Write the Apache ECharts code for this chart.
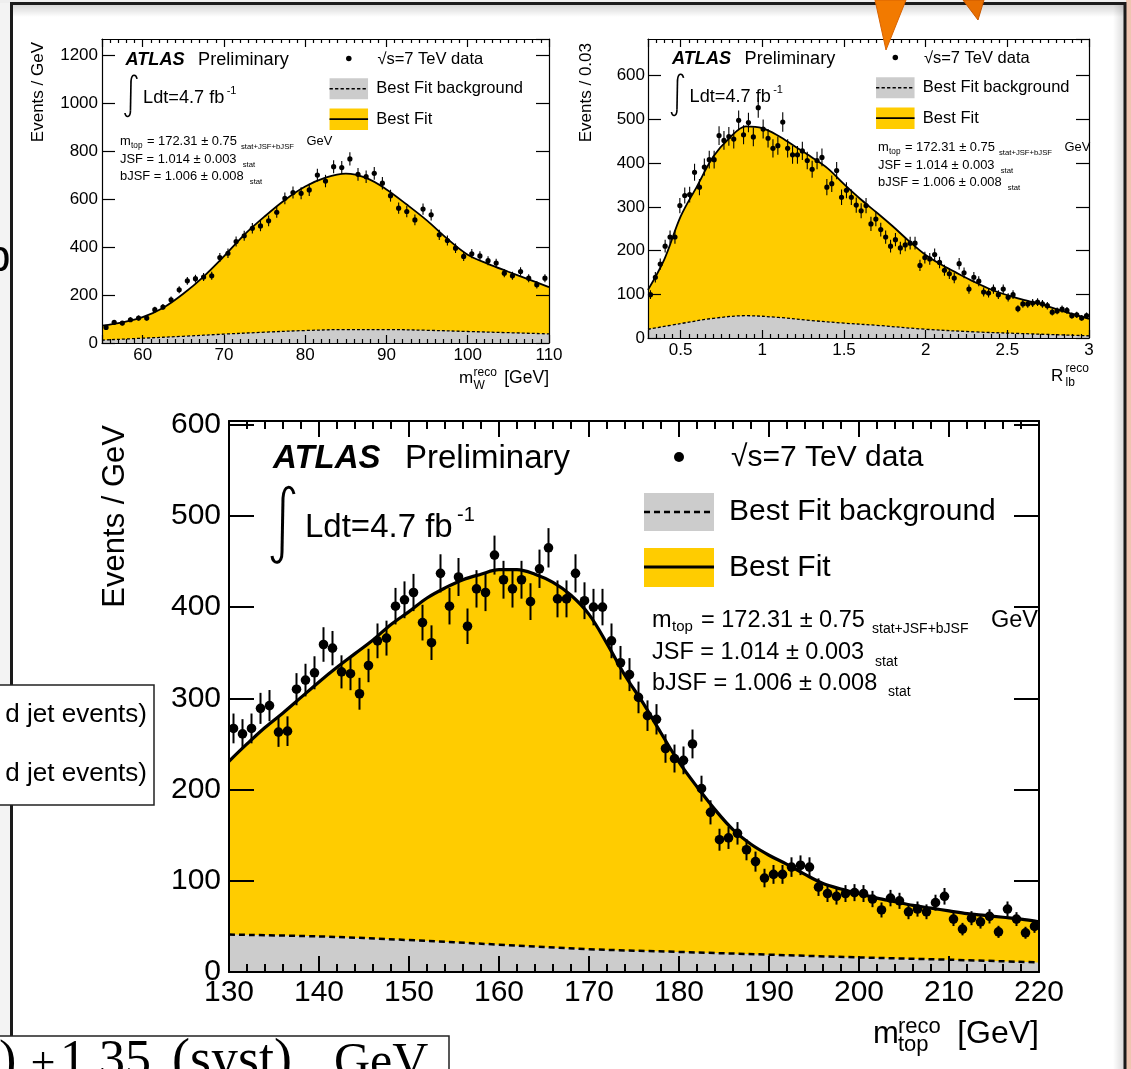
<!DOCTYPE html>
<html lang="en">
<head>
<meta charset="UTF-8" />
<title>ATLAS top mass template fit</title>
<script src="https://cdn.jsdelivr.net/npm/echarts@6.0.0/dist/echarts.min.js"></script>
<style>
  html, body { margin: 0; padding: 0; background: #fff; }
  #chart { width: 1131px; height: 1069px; }
</style>
</head>
<body>
<div id="chart"></div>
<script>
// ---- m_W^reco : 1 GeV bins from 55 GeV ----
const mwLo = 55, mwBinWidth = 1;
const mwData = [65, 86, 83, 97, 104, 104, 139, 150, 180, 222, 259, 268, 275, 280, 356, 374, 423, 447, 478, 488,
  509, 545, 603, 627, 624, 638, 700, 675, 735, 731, 767, 703, 693, 707, 666, 614, 562, 548, 513, 558,
  534, 451, 427, 395, 361, 372, 363, 343, 333, 291, 280, 298, 270, 243, 270];
const mwFitX = [55, 57.5, 60, 62.5, 65, 67.5, 70, 72.5, 75, 77.5, 80, 82.5, 85, 87.5, 90, 92.5, 95, 97.5, 100, 102.5, 105, 107.5, 110];
const mwFitY = [72, 86, 108, 146, 205, 277, 361, 451, 527, 596, 652, 689, 706, 688, 640, 577, 510, 434, 368, 330, 297, 265, 233];
const mwBkgX = [55, 60, 65, 70, 75, 80, 85, 90, 95, 100, 105, 110];
const mwBkgY = [12, 20, 28, 37, 45, 52, 56, 56, 53, 48, 43, 38];

// ---- R_lb^reco : 0.03 bins from 0.3 ----
const rlbLo = 0.3, rlbBinWidth = 0.03;
const rlbData = [99, 139, 169, 210, 231, 231, 303, 326, 328, 379, 345, 391, 408, 408, 463, 452, 461, 455, 498, 465,
  493, 460, 527, 478, 457, 434, 440, 494, 434, 419, 419, 428, 406, 386, 406, 413, 345, 353, 383, 322,
  338, 322, 304, 291, 303, 261, 272, 248, 231, 210, 225, 206, 213, 217, 217, 166, 184, 181, 191, 173,
  155, 147, 137, 170, 149, 112, 139, 130, 105, 103, 112, 99, 112, 93, 99, 67, 78, 78, 80, 82,
  78, 74, 59, 62, 66, 63, 51, 53, 46, 51];
const rlbFitX = [0.3, 0.4, 0.5, 0.6, 0.7, 0.8, 0.9, 1.0, 1.1, 1.2, 1.3, 1.4, 1.5, 1.6, 1.7, 1.8, 1.9, 2.0, 2.1, 2.2, 2.3, 2.4, 2.5, 2.6, 2.7, 2.8, 2.9, 3.0];
const rlbFitY = [110, 180, 278, 347, 415, 458, 484, 480, 462, 438, 414, 388, 352, 318, 287, 255, 221, 190, 167, 147, 128, 111, 98, 87, 78, 66, 55, 44];
const rlbBkgX = [0.3, 0.5, 0.7, 0.9, 1.1, 1.3, 1.5, 1.7, 2.0, 2.3, 2.6, 3.0];
const rlbBkgY = [20, 33, 45, 51, 47, 40, 34, 29, 20, 14, 10, 5];

// ---- m_top^reco : 1 GeV bins from 130 GeV ----
const mtLo = 130, mtBinWidth = 1;
const mtData = [267, 261, 267, 289, 292, 263, 264, 310, 320, 328, 359, 355, 329, 327, 305, 336, 363, 366, 401, 408,
  416, 383, 361, 437, 401, 433, 379, 420, 416, 457, 430, 420, 430, 406, 442, 465, 409, 409, 437, 407,
  400, 400, 363, 339, 326, 301, 281, 277, 245, 234, 232, 250, 201, 175, 145, 147, 152, 134, 121, 103,
  107, 107, 115, 117, 115, 93, 86, 83, 86, 87, 86, 80, 68, 81, 78, 66, 69, 66, 76, 83,
  58, 47, 59, 55, 61, 44, 69, 58, 43, 50];
const mtFitX = [130, 132, 134, 136, 138, 140, 142, 144, 146, 148, 150, 152, 154, 156, 158, 160, 162, 164, 166, 168,
  170, 172, 174, 176, 178, 180, 182, 184, 186, 188, 190, 192, 194, 196, 198, 200, 202, 204, 206, 208,
  210, 212, 214, 216, 218, 220];
const mtFitY = [231, 250, 268, 284, 301, 318, 334, 349, 364, 381, 395, 410, 421, 430, 436, 441, 441, 436, 427, 413,
  392, 360, 325, 295, 262, 230, 203, 178, 156, 140, 128, 118, 107, 97, 91, 86, 81, 77, 73, 70,
  67, 64, 62, 60, 58, 55];
const mtBkgX = [130, 140, 150, 160, 170, 180, 190, 200, 210, 220];
const mtBkgY = [41, 39, 35, 30, 25, 22, 19, 16, 13.5, 10.5];

const FONT = 'Liberation Sans';
const YELLOW = '#ffcc00';
const GREY = '#cccccc';

const chart = echarts.init(document.getElementById('chart'));

// one pair of x axes (bottom/top) and y axes (left/right) per frame, ROOT style
function frameAxes(gi, o) {
  const ls = { color: '#000', width: o.lw };
  const xa = {
    gridIndex: gi, type: 'value', min: o.xmin, max: o.xmax,
    interval: o.xInterval, splitNumber: o.xSplit,
    axisLine: { show: true, onZero: false, lineStyle: ls },
    axisTick: { show: true, inside: true, length: o.tickX, lineStyle: ls },
    minorTick: { show: true, splitNumber: o.xMinor, length: o.minorX, lineStyle: ls },
    splitLine: { show: false },
    axisLabel: { fontFamily: FONT, fontSize: o.font, color: '#000', margin: o.xMargin,
      showMinLabel: o.xMinLabel, formatter: v => String(v) },
    z: 10
  };
  const ya = {
    gridIndex: gi, type: 'value', min: 0, max: o.ymax, interval: o.yInterval,
    axisLine: { show: true, onZero: false, lineStyle: ls },
    axisTick: { show: true, inside: true, length: o.tickY, lineStyle: ls },
    splitLine: { show: false },
    axisLabel: { fontFamily: FONT, fontSize: o.font, color: '#000', margin: o.yMargin,
      showMaxLabel: false, formatter: v => String(v) },
    z: 10
  };
  return {
    x: [Object.assign({}, xa, { position: 'bottom' }),
        Object.assign({}, xa, { position: 'top', axisLabel: { show: false } })],
    y: [Object.assign({}, ya, { position: 'left' }),
        Object.assign({}, ya, { position: 'right', axisLabel: { show: false } })]
  };
}

const ax1 = frameAxes(0, { xmin: 55, xmax: 110, xSplit: 5, xMinor: 10, ymax: 1267, yInterval: 200,
  lw: 1.2, tickX: 8, minorX: 4, tickY: 13, font: 17, xMargin: 4, yMargin: 4, xMinLabel: false });
const ax2 = frameAxes(1, { xmin: 0.3, xmax: 3, xSplit: 5, xMinor: 10, ymax: 684, yInterval: 100,
  lw: 1.2, tickX: 8, minorX: 4, tickY: 13, font: 17, xMargin: 4, yMargin: 3, xMinLabel: false });
const ax3 = frameAxes(2, { xmin: 130, xmax: 220, xInterval: 10, xMinor: 5, ymax: 604, yInterval: 100,
  lw: 2, tickX: 16, minorX: 8, tickY: 25, font: 30, xMargin: 6, yMargin: 8, xMinLabel: true });

function pairs(xs, ys) { return xs.map((x, i) => [x, ys[i]]); }

function fitSeries(gi, xs, ys, lw) {
  return {
    type: 'line', xAxisIndex: 2 * gi, yAxisIndex: 2 * gi, data: pairs(xs, ys),
    smooth: 0.35, symbol: 'none', silent: true, z: 2,
    lineStyle: { color: '#000', width: lw },
    areaStyle: { color: YELLOW, opacity: 1 }
  };
}
function bkgSeries(gi, xs, ys, lw, dash) {
  return {
    type: 'line', xAxisIndex: 2 * gi, yAxisIndex: 2 * gi, data: pairs(xs, ys),
    smooth: 0.35, symbol: 'none', silent: true, z: 3,
    lineStyle: { color: '#000', width: lw, type: dash },
    areaStyle: { color: GREY, opacity: 1 }
  };
}
// data points with sqrt(N) error bars
function dataSeries(gi, counts, lo, w, r, lw) {
  return {
    type: 'custom', xAxisIndex: 2 * gi, yAxisIndex: 2 * gi, z: 20, silent: true,
    data: counts.map((v, i) => [lo + (i + 0.5) * w, v]),
    renderItem: function (params, api) {
      const x = api.value(0), y = api.value(1);
      const p = api.coord([x, y]);
      const e = Math.sqrt(y);
      const hi = api.coord([x, y + e]), low = api.coord([x, y - e]);
      return {
        type: 'group', children: [
          { type: 'line', shape: { x1: p[0], y1: hi[1], x2: p[0], y2: low[1] }, style: { stroke: '#000', lineWidth: lw } },
          { type: 'circle', shape: { cx: p[0], cy: p[1], r: r }, style: { fill: '#000' } }
        ]
      };
    }
  };
}

// ---- text helpers (positions are baselines) ----
function T(x, base, str, size, o) {
  o = o || {};
  return {
    type: 'text', x: x, y: base - 0.33 * size, z: 100, silent: true,
    style: {
      text: str, fontFamily: o.family || FONT, fontSize: size,
      fontWeight: o.weight || 'normal', fontStyle: o.style || 'normal',
      fill: '#000', align: o.align || 'left', verticalAlign: 'middle'
    }
  };
}
function yName(x, top, str, size) {
  return {
    type: 'text', x: x, y: top, rotation: Math.PI / 2, z: 100, silent: true,
    style: { text: str, fontFamily: FONT, fontSize: size, fill: '#000', align: 'right', verticalAlign: 'middle' }
  };
}
function integral(x0, b0, s) {
  const P = (dx, dy) => [x0 + dx * s, b0 + dy * s];
  const st = { stroke: '#000', lineWidth: 3 * s, fill: null };
  const a = P(21, 24), c1 = P(19, 15), c2 = P(11, 14), b = P(10, 28);
  const d = P(9, 82), c3 = P(9, 95), c4 = P(0, 95), e = P(-1, 86);
  return [
    { type: 'bezierCurve', z: 100, shape: { x1: a[0], y1: a[1], cpx1: c1[0], cpy1: c1[1], cpx2: c2[0], cpy2: c2[1], x2: b[0], y2: b[1] }, style: st },
    { type: 'line', z: 100, shape: { x1: b[0], y1: b[1], x2: d[0], y2: d[1] }, style: st },
    { type: 'bezierCurve', z: 100, shape: { x1: d[0], y1: d[1], cpx1: c3[0], cpy1: c3[1], cpx2: c4[0], cpy2: c4[1], x2: e[0], y2: e[1] }, style: st }
  ];
}
function legendBlock(x0, b0, s) {
  const t = (dx, db, str, size, o) => T(x0 + dx * s, b0 + db * s, str, size * s, o);
  const els = [
    t(0, 0, 'ATLAS', 33, { weight: 'bold', style: 'italic' }),
    t(132, 0, 'Preliminary', 33),
    t(32, 69, 'Ldt=4.7 fb', 33),
    t(184, 52, '-1', 20),
    { type: 'circle', z: 100, shape: { cx: x0 + 406 * s, cy: b0 - 13 * s, r: 5 * s }, style: { fill: '#000' } },
    t(458, -2, '\u221As=7 TeV data', 30),
    { type: 'rect', z: 100, shape: { x: x0 + 371 * s, y: b0 + 23 * s, width: 70 * s, height: 38 * s }, style: { fill: GREY } },
    { type: 'line', z: 101, shape: { x1: x0 + 371 * s, y1: b0 + 42 * s, x2: x0 + 441 * s, y2: b0 + 42 * s },
      style: { stroke: '#000', lineWidth: 2.5 * s, lineDash: [6 * s, 4 * s] } },
    t(456, 52, 'Best Fit background', 30),
    { type: 'rect', z: 100, shape: { x: x0 + 371 * s, y: b0 + 78 * s, width: 70 * s, height: 39 * s }, style: { fill: YELLOW } },
    { type: 'line', z: 101, shape: { x1: x0 + 371 * s, y1: b0 + 97 * s, x2: x0 + 441 * s, y2: b0 + 97 * s },
      style: { stroke: '#000', lineWidth: 3 * s } },
    t(456, 108, 'Best Fit', 30)
  ];
  return els.concat(integral(x0, b0, s));
}
function fitBlock(x0, b0, s) {
  const t = (dx, db, str, size) => T(x0 + dx * s, b0 + db * s, str, size * s);
  return [
    t(0, 0, 'm', 23.5), t(20, 4, 'top', 15), t(49, 0, '= 172.31 \u00B1 0.75', 23.5),
    t(220, 6, 'stat+JSF+bJSF', 14), t(339, 0, 'GeV', 23.5),
    t(0, 32, 'JSF = 1.014 \u00B1 0.003', 23.5), t(223, 39, 'stat', 14),
    t(0, 63, 'bJSF = 1.006 \u00B1 0.008', 23.5), t(236, 69, 'stat', 14)
  ];
}

// ---- slide decorations around the plots ----
const deco = [
  { type: 'rect', z: -5, shape: { x: 0, y: 0, width: 10, height: 1069 }, style: { fill: '#f3f3f3' } },
  { type: 'rect', z: -5, shape: { x: 0, y: 0, width: 1131, height: 3 }, style: { fill: '#eeeeee' } },
  { type: 'rect', z: -4, shape: { x: 12, y: 5, width: 1112, height: 12 },
    style: { fill: { type: 'linear', x: 0, y: 0, x2: 0, y2: 1, colorStops: [{ offset: 0, color: 'rgba(0,0,0,0.16)' }, { offset: 1, color: 'rgba(0,0,0,0)' }] } } },
  { type: 'rect', z: -4, shape: { x: 1113, y: 5, width: 11, height: 1064 },
    style: { fill: { type: 'linear', x: 0, y: 0, x2: 1, y2: 0, colorStops: [{ offset: 0, color: 'rgba(0,0,0,0)' }, { offset: 1, color: 'rgba(0,0,0,0.14)' }] } } },
  { type: 'rect', z: -3, shape: { x: 1126, y: 0, width: 5, height: 1069 }, style: { fill: '#efc5b1' } },
  { type: 'line', z: -2, shape: { x1: 11, y1: 3.5, x2: 1126, y2: 3.5 }, style: { stroke: '#1a1a1a', lineWidth: 3 } },
  { type: 'line', z: -2, shape: { x1: 11.5, y1: 2, x2: 11.5, y2: 1040 }, style: { stroke: '#1a1a1a', lineWidth: 3 } },
  { type: 'line', z: -2, shape: { x1: 1125, y1: 2, x2: 1125, y2: 1069 }, style: { stroke: '#1a1a1a', lineWidth: 3 } },
  // callout pointers from the slide above
  { type: 'polygon', z: 120, shape: { points: [[875, 0], [906, 0], [886, 50]] },
    style: { fill: '#f27a00', stroke: '#d86200', lineWidth: 1 } },
  { type: 'polygon', z: 120, shape: { points: [[963, 0], [984, 0], [978, 20]] },
    style: { fill: '#e86f00', stroke: '#c85800', lineWidth: 1 } },
  // partial slide text boxes
  T(-14, 273, 'b', 44),
  { type: 'rect', z: 90, shape: { x: -2, y: 685, width: 156, height: 120 }, style: { fill: '#fff', stroke: '#222', lineWidth: 1.5 } },
  T(147, 723, 'd jet events)', 26, { align: 'right' }),
  T(147, 782, 'd jet events)', 26, { align: 'right' }),
  { type: 'rect', z: 90, shape: { x: -2, y: 1036, width: 451, height: 60 }, style: { fill: '#fff', stroke: '#222', lineWidth: 1.5 } },
  T(-1, 1080, ')', 52, { family: 'Liberation Serif' }),
  T(31, 1080, '\u00B1', 44, { family: 'Liberation Serif' }),
  T(60, 1080, '1.35', 52, { family: 'Liberation Serif' }),
  T(172, 1080, '(syst)', 54, { family: 'Liberation Serif' }),
  T(334, 1080, 'GeV', 50, { family: 'Liberation Serif' })
];

// ---- axis titles ----
const titles = [
  yName(38, 42, 'Events / GeV', 17),
  T(459, 384, 'm', 17), T(473.5, 377, 'reco', 12), T(473.5, 390, 'W', 12),
  T(549, 384, '[GeV]', 17.5, { align: 'right' }),
  yName(586, 43, 'Events / 0.03', 17),
  T(1051, 382, 'R', 17), T(1065.5, 373, 'reco', 12), T(1065.5, 387, 'lb', 12),
  yName(115, 425, 'Events / GeV', 31),
  T(873, 1045, 'm', 31), T(898, 1034, 'reco', 22), T(898, 1052, 'top', 22),
  T(1039, 1045, '[GeV]', 32, { align: 'right' })
];

const graphics = [].concat(
  deco, titles,
  legendBlock(125.5, 65.7, 0.55), fitBlock(120, 146, 0.55),
  legendBlock(672, 64.7, 0.55), fitBlock(878, 152, 0.55),
  legendBlock(273, 470, 1), fitBlock(652, 628, 1)
);

chart.setOption({
  animation: false,
  backgroundColor: '#fff',
  grid: [
    { left: 102, top: 39, width: 447, height: 304, outerBoundsMode: 'none' },
    { left: 648, top: 39, width: 441, height: 299, outerBoundsMode: 'none' },
    { left: 229, top: 421, width: 810, height: 551, outerBoundsMode: 'none' }
  ],
  xAxis: [].concat(ax1.x, ax2.x, ax3.x),
  yAxis: [].concat(ax1.y, ax2.y, ax3.y),
  series: [
    fitSeries(0, mwFitX, mwFitY, 1.8), bkgSeries(0, mwBkgX, mwBkgY, 1.3, [3, 2]),
    dataSeries(0, mwData, mwLo, mwBinWidth, 2.6, 1.1),
    fitSeries(1, rlbFitX, rlbFitY, 1.8), bkgSeries(1, rlbBkgX, rlbBkgY, 1.3, [3, 2]),
    dataSeries(1, rlbData, rlbLo, rlbBinWidth, 2.6, 1.1),
    fitSeries(2, mtFitX, mtFitY, 3.2), bkgSeries(2, mtBkgX, mtBkgY, 2.5, [6, 4]),
    dataSeries(2, mtData, mtLo, mtBinWidth, 4.8, 2)
  ],
  graphic: { elements: graphics }
});
</script>
</body>
</html>
